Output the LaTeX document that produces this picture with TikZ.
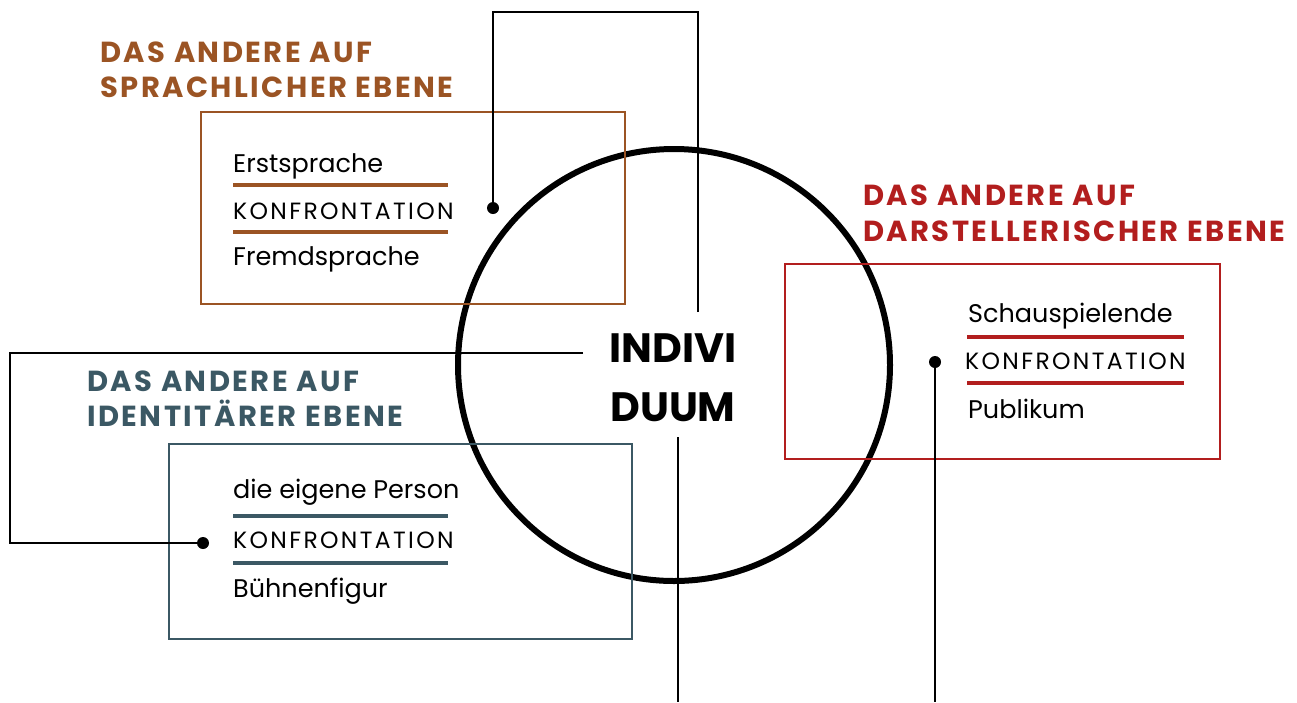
\documentclass[tikz,border=0pt]{standalone}
\usepackage{fontspec}
\setmainfont{Poppins}
\newfontfamily\headfont[LetterSpace=8.5]{Poppins}
\newfontfamily\konffont[LetterSpace=10]{Poppins}
\definecolor{brownc}{HTML}{9B5424}
\definecolor{tealc}{HTML}{3B5864}
\definecolor{redc}{HTML}{B21E1E}
\begin{document}
\begin{tikzpicture}[x=1pt,y=-1pt,
  head/.style={anchor=base west,inner sep=0pt,font=\headfont\bfseries\fontsize{29}{29}\selectfont},
  item/.style={anchor=base west,inner sep=0pt,font=\fontsize{25.5}{25.5}\selectfont},
  konf/.style={anchor=base west,inner sep=0pt,font=\konffont\fontsize{23.5}{23.5}\selectfont},
  frame/.style={draw=#1,line width=2pt},
  bar/.style={draw=#1,line width=4pt},
  wire/.style={draw=black,line width=2pt},
  dot/.style={circle,fill=black,inner sep=0pt,minimum size=12pt}]
\useasboundingbox (0,0) rectangle (1297,702);

% central circle with the word
\node[circle,draw=black,line width=6pt,minimum size=432pt,inner sep=0pt] (ring) at (674,365) {};
\node[anchor=base,inner sep=0pt,font=\bfseries\fontsize{41}{41}\selectfont] (ind1) at (673,362) {INDIVI};
\node[anchor=base,inner sep=0pt,font=\bfseries\fontsize{41}{41}\selectfont] (ind2) at (673,421) {DUUM};

% language level
\node[head,text=brownc] (h1a) at (100,62) {DAS ANDERE AUF};
\node[head,text=brownc] (h1b) at (100,97) {SPRACHLICHER EBENE};
\node[frame=brownc,minimum width=424pt,minimum height=192pt,inner sep=0pt] (b1) at (413,208) {};
\node[item] (t1a) at (233,172) {Erstsprache};
\node[konf] (t1b) at (233,219) {KONFRONTATION};
\node[item] (t1c) at (233,265) {Fremdsprache};
\draw[bar=brownc] (233,185) -- (448,185);
\draw[bar=brownc] (233,232) -- (448,232);

% identity level
\node[head,text=tealc] (h2a) at (87,391) {DAS ANDERE AUF};
\node[head,text=tealc] (h2b) at (87,426) {IDENTITÄRER EBENE};
\node[frame=tealc,minimum width=463pt,minimum height=195pt,inner sep=0pt] (b2) at (400.5,541.5) {};
\node[item] (t2a) at (233,498) {die eigene Person};
\node[konf] (t2b) at (233,548) {KONFRONTATION};
\node[item] (t2c) at (233,597) {Bühnenfigur};
\draw[bar=tealc] (233,516) -- (448,516);
\draw[bar=tealc] (233,563) -- (448,563);

% performance level
\node[head,text=redc] (h3a) at (863,205) {DAS ANDERE AUF};
\node[head,text=redc] (h3b) at (863,241) {DARSTELLERISCHER EBENE};
\node[frame=redc,minimum width=435pt,minimum height=195pt,inner sep=0pt] (b3) at (1002.5,361.5) {};
\node[item] (t3a) at (968,322) {Schauspielende};
\node[konf] (t3b) at (965,369) {KONFRONTATION};
\node[item] (t3c) at (968,418) {Publikum};
\draw[bar=redc] (967,337) -- (1184,337);
\draw[bar=redc] (967,383) -- (1184,383);

% connectors
\node[dot] (d1) at (493,208) {};
\node[dot] (d2) at (203,543) {};
\node[dot] (d3) at (935,362) {};
\coordinate (c1) at (698,312);
\coordinate (c2) at (583,353);
\coordinate (c3) at (678,437);
\coordinate (e3) at (678,702);
\coordinate (e4) at (935,702);
\draw[wire] (c1) |- (493,12) -- (d1.center);
\draw[wire] (c2) -| (10,543) -- (d2.center);
\draw[wire] (c3) -- (e3);
\draw[wire] (d3.center) -- (e4);
\end{tikzpicture}
\end{document}
